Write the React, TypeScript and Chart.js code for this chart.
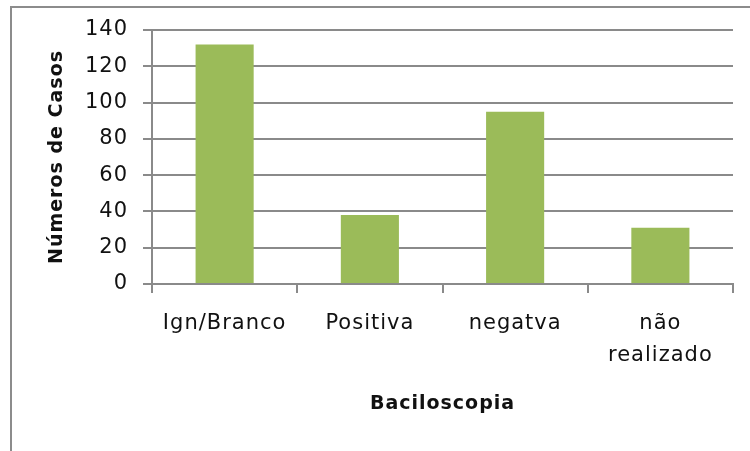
import { useEffect, useRef } from "react";
import { Chart, registerables } from "chart.js";

Chart.register(...registerables);

// Baciloscopia results and number of cases
const categories: (string | string[])[] = ["Ign/Branco", "Positiva", "negatva", ["não", "realizado"]];
const casos = [132, 38, 95, 31];
const yTickValues = [0, 20, 40, 60, 80, 100, 120, 140];

const xTitle = "Baciloscopia";
const yTitle = "Números de Casos";

const barColor = "#9bbb59";
const lineColor = "#8a8a8a";
const textColor = "#111111";
const fontFamily = "'DejaVu Sans', sans-serif";

// Slightly spaced-out lettering for all chart text
const letterSpacingPlugin = {
  id: "letterSpacing",
  beforeDraw(chart: Chart) {
    (chart.ctx as any).letterSpacing = "1px";
  },
};

export default function App() {
  const canvasRef = useRef<HTMLCanvasElement>(null);

  useEffect(() => {
    if (!canvasRef.current) return;
    const chart = new Chart(canvasRef.current, {
      type: "bar",
      data: {
        labels: categories,
        datasets: [
          {
            data: casos,
            backgroundColor: barColor,
            borderWidth: 0,
            barPercentage: 0.4,
            categoryPercentage: 1,
          },
        ],
      },
      options: {
        responsive: false,
        animation: false,
        devicePixelRatio: 1,
        layout: { padding: { left: 0, top: 30, right: 17, bottom: 0 } },
        plugins: {
          legend: { display: false },
          tooltip: { enabled: false },
        },
        scales: {
          x: {
            grid: {
              offset: true,
              drawOnChartArea: false,
              drawTicks: true,
              tickLength: 9,
              color: lineColor,
              lineWidth: 2,
            },
            border: { color: lineColor, width: 2 },
            ticks: {
              color: textColor,
              font: { family: fontFamily, size: 21, lineHeight: 1.55 },
              padding: 14,
              maxRotation: 0,
              autoSkip: false,
            },
            title: {
              display: true,
              text: xTitle,
              color: textColor,
              font: { family: fontFamily, size: 19, weight: "bold" },
              padding: { top: 0, bottom: 36 },
            },
            afterFit(scale: any) {
              scale.height = 167;
            },
          },
          y: {
            min: 0,
            max: 140,
            afterBuildTicks(scale: any) {
              scale.ticks = yTickValues.map((v) => ({ value: v }));
            },
            grid: {
              color: lineColor,
              lineWidth: 2,
              tickLength: 9,
            },
            border: { color: lineColor, width: 2 },
            ticks: {
              color: textColor,
              font: { family: fontFamily, size: 21 },
              padding: 15,
            },
            title: {
              display: true,
              text: yTitle,
              color: textColor,
              font: { family: fontFamily, size: 19, weight: "bold" },
              padding: { top: 46, bottom: 0 },
            },
            afterFit(scale: any) {
              scale.width = 152;
            },
          },
        },
      },
      plugins: [letterSpacingPlugin],
    });
    return () => chart.destroy();
  }, []);

  return (
    <div
      style={{
        position: "fixed",
        left: 0,
        top: 0,
        width: 750,
        height: 451,
        overflow: "hidden",
        background: "#ffffff",
      }}
    >
      <div
        style={{
          position: "absolute",
          left: 10,
          top: 6,
          width: 800,
          height: 500,
          borderLeft: "2px solid #8c8c8c",
          borderTop: "2px solid #8c8c8c",
        }}
      />
      <canvas
        ref={canvasRef}
        width={750}
        height={451}
        style={{ position: "absolute", left: 0, top: 0, width: 750, height: 451 }}
      />
    </div>
  );
}
